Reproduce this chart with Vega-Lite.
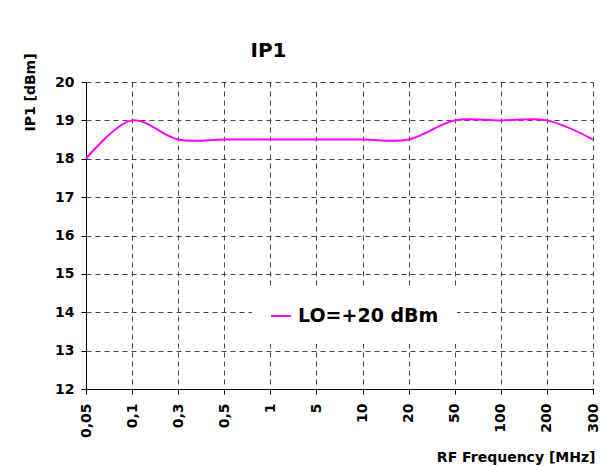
{
  "$schema": "https://vega.github.io/schema/vega-lite/v6.json",
  "width": 507,
  "height": 307,
  "autosize": {"type": "none"},
  "padding": {"left": 86, "top": 82, "right": 8, "bottom": 77},
  "background": "white",
  "title": {
    "text": "IP1",
    "font": "DejaVu Sans",
    "fontSize": 20,
    "fontWeight": "bold",
    "color": "black",
    "anchor": "middle",
    "frame": "group",
    "dx": -71,
    "dy": 49,
    "baseline": "alphabetic",
    "offset": 25
  },
  "config": {
    "view": {"stroke": null},
    "axis": {
      "labelFont": "DejaVu Sans",
      "labelFontWeight": "bold",
      "labelFontSize": 14,
      "labelColor": "black",
      "titleFont": "DejaVu Sans",
      "titleFontWeight": "bold",
      "titleFontSize": 14,
      "titleColor": "black",
      "domainColor": "black",
      "tickColor": "black",
      "tickSize": 5,
      "gridColor": "#444444",
      "gridDash": [5, 4],
      "gridWidth": 1,
      "gridOpacity": 1
    }
  },
  "data": {
    "values": [
      {"f": "0,05", "v": 18.0, "s": "LO=+20 dBm"},
      {"f": "0,1", "v": 19.0, "s": "LO=+20 dBm"},
      {"f": "0,3", "v": 18.5, "s": "LO=+20 dBm"},
      {"f": "0,5", "v": 18.5, "s": "LO=+20 dBm"},
      {"f": "1", "v": 18.5, "s": "LO=+20 dBm"},
      {"f": "5", "v": 18.5, "s": "LO=+20 dBm"},
      {"f": "10", "v": 18.5, "s": "LO=+20 dBm"},
      {"f": "20", "v": 18.5, "s": "LO=+20 dBm"},
      {"f": "50", "v": 19.0, "s": "LO=+20 dBm"},
      {"f": "100", "v": 19.0, "s": "LO=+20 dBm"},
      {"f": "200", "v": 19.0, "s": "LO=+20 dBm"},
      {"f": "300", "v": 18.5, "s": "LO=+20 dBm"}
    ]
  },
  "mark": {"type": "line", "interpolate": "catmull-rom", "strokeWidth": 2, "clip": false},
  "encoding": {
    "x": {
      "field": "f",
      "type": "ordinal",
      "sort": null,
      "scale": {"type": "point", "padding": 0},
      "axis": {
        "title": "RF Frequency [MHz]",
        "labelAngle": -90,
        "labelPadding": 9,
        "grid": true,
        "titleX": 509,
        "titleY": 72,
        "titleAlign": "right",
        "titleAnchor": null,
        "titleBaseline": "alphabetic"
      }
    },
    "y": {
      "field": "v",
      "type": "quantitative",
      "scale": {"domain": [12, 20], "nice": false, "zero": false},
      "axis": {
        "title": "IP1 [dBm]",
        "values": [12, 13, 14, 15, 16, 17, 18, 19, 20],
        "labelPadding": 7,
        "grid": true,
        "titleX": -56,
        "titleY": 10,
        "titleAlign": "center",
        "titleBaseline": "middle",
        "titleAnchor": null
      }
    },
    "color": {
      "field": "s",
      "type": "nominal",
      "scale": {"range": ["#ff00ff"]},
      "legend": {
        "title": null,
        "orient": "none",
        "legendX": 166,
        "legendY": 205,
        "padding": 18,
        "fillColor": "white",
        "strokeColor": null,
        "symbolType": "stroke",
        "symbolSize": 400,
        "symbolStrokeWidth": 2,
        "labelFont": "DejaVu Sans",
        "labelFontWeight": "bold",
        "labelFontSize": 19,
        "labelColor": "black",
        "labelOffset": 6,
        "labelLimit": 300
      }
    }
  }
}
